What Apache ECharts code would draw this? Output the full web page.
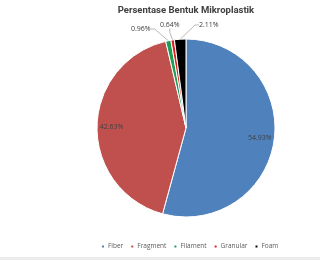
<!DOCTYPE html>
<html><head><meta charset="utf-8">
<script src="https://cdn.jsdelivr.net/npm/echarts@6/dist/echarts.min.js"></script>
<style>html,body{margin:0;padding:0;background:#fff}#c{width:320px;height:260px}</style>
</head><body><div id="c"></div>
<script>
const categories = ['Fiber', 'Fragment', 'Filament', 'Granular', 'Foam'];
const values = [54.93, 42.63, 0.96, 0.64, 2.11];
const colors = ['#4F81BD', '#C0504D', '#1E9E55', '#E0201E', '#000000'];
const titleText = 'Persentase Bentuk Mikroplastik';
const insideLabelIdx = [0, 1];
// label anchor positions for the small outside labels (style, not data)
const outsideLabelPos = {2: [131, 29], 3: [160, 25], 4: [199, 25]};

const chart = echarts.init(document.getElementById('c'), null, {renderer: 'canvas'});
const fmt = v => v.toFixed(2) + '%';
const mainData = categories.map((n, i) => ({
  name: n, value: values[i],
  itemStyle: {color: colors[i]},
  label: insideLabelIdx.includes(i) ? {show: false} : {show: true},
  labelLine: insideLabelIdx.includes(i) ? {show: false} : {show: true}
}));
const labelData = categories.map((n, i) => ({
  name: n, value: values[i],
  label: {show: insideLabelIdx.includes(i)}
}));
chart.setOption({
  animation: false,
  legend: {bottom: 5, left: 95, itemWidth: 4, itemHeight: 4, itemGap: 6,
    icon: 'rect', data: categories,
    textStyle: {fontFamily: 'Open Sans', fontSize: 6.5, color: '#595959', padding: [0, 0, 0, -2]}},
  graphic: [
    {type: 'rect', shape: {x: 0, y: 257, width: 320, height: 3}, style: {fill: '#ececec'}},
    {type: 'text', x: 186, y: 11, style: {text: titleText, align: 'center', verticalAlign: 'middle',
      font: 'bold 9.5px Roboto', fill: '#404040'}}
  ],
  series: [{
    type: 'pie', center: [186, 128], radius: 89, startAngle: 90, clockwise: true,
    data: mainData,
    itemStyle: {borderColor: '#fff', borderWidth: 1},
    label: {position: 'outside', formatter: p => fmt(p.value),
      fontFamily: 'Open Sans', fontSize: 7, color: '#404040'},
    labelLine: {length: 6, length2: 4, lineStyle: {color: '#a6a6a6', width: 0.8}},
    labelLayout: function (p) {
      const pos = outsideLabelPos[p.dataIndex];
      return pos ? {x: pos[0], y: pos[1], align: 'left', verticalAlign: 'middle'} : {};
    },
    emphasis: {disabled: true}
  }, {
    type: 'pie', center: [186, 128], radius: [54, 89], startAngle: 90, clockwise: true,
    data: labelData, silent: true,
    itemStyle: {color: 'rgba(0,0,0,0)'},
    label: {position: 'inside', formatter: p => fmt(p.value),
      fontFamily: 'Open Sans', fontSize: 7, color: '#404040'},
    labelLine: {show: false},
    emphasis: {disabled: true}
  }]
});
</script></body></html>
